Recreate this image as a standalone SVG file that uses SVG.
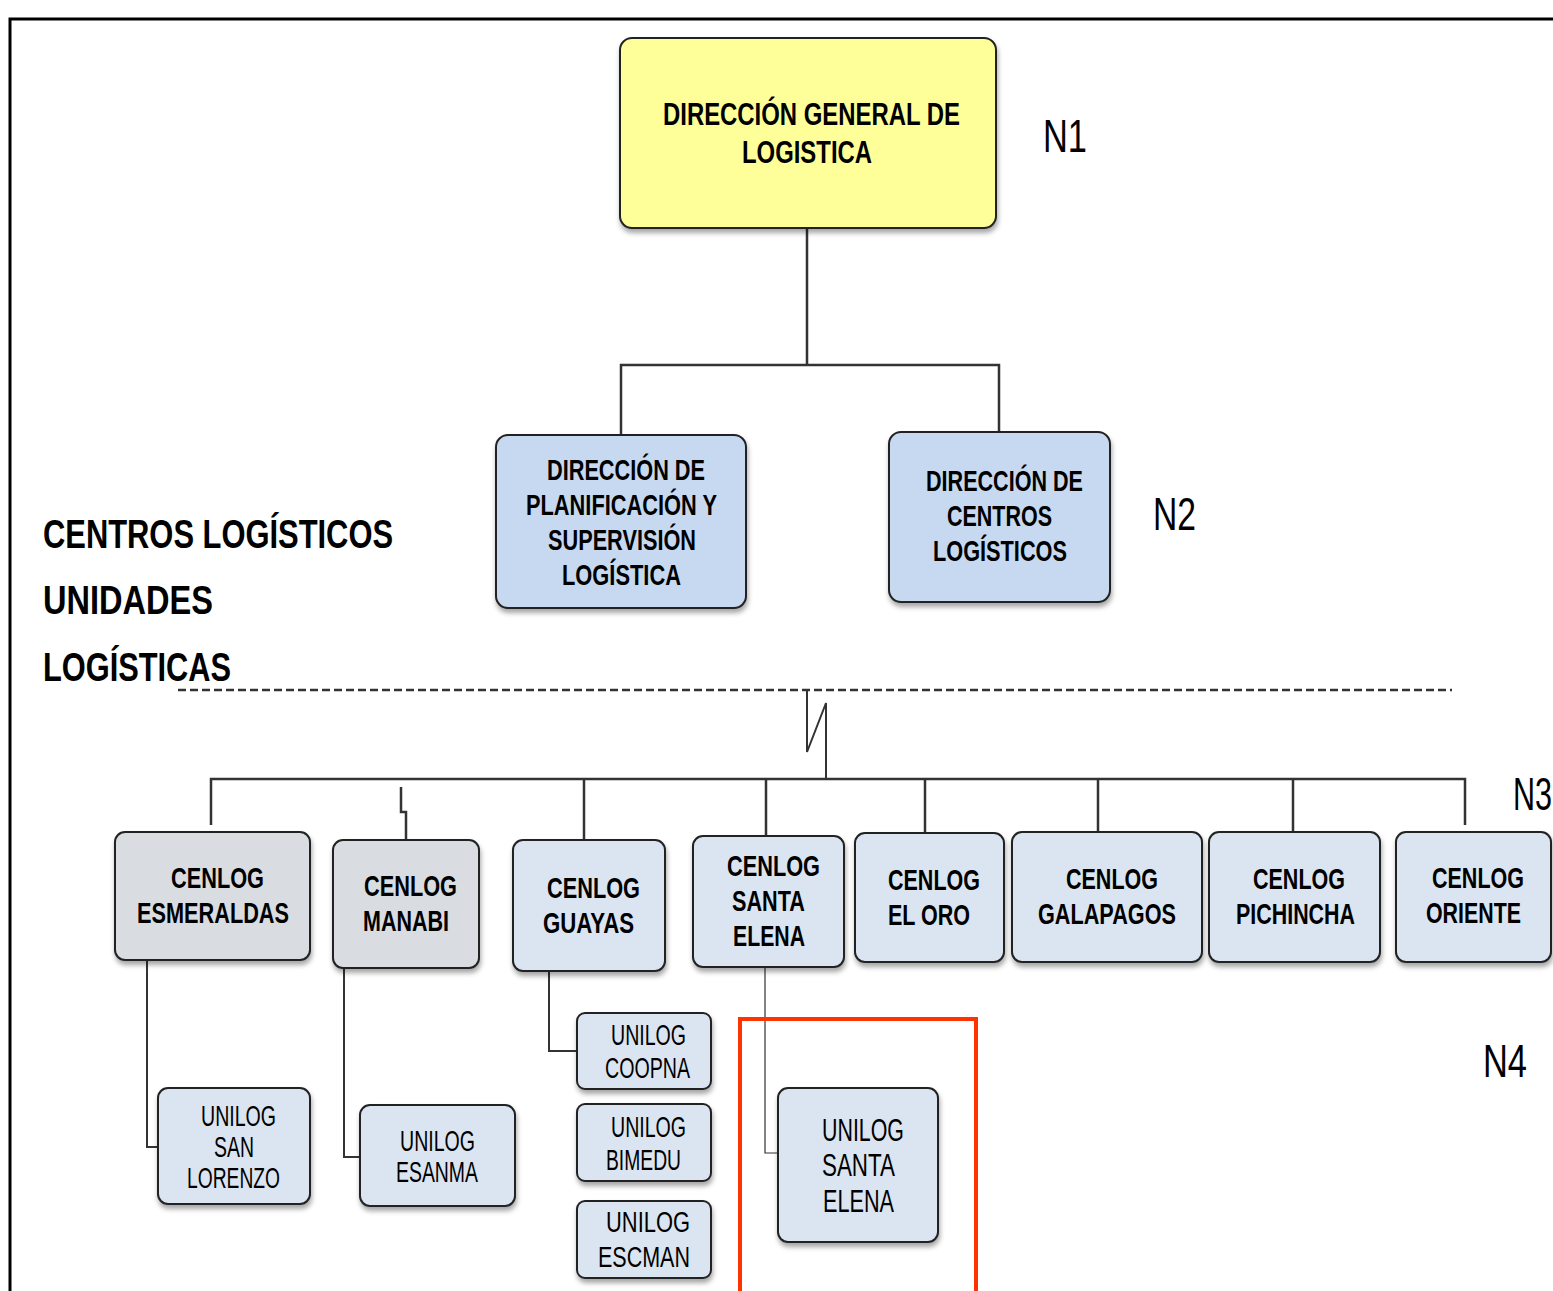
<svg xmlns="http://www.w3.org/2000/svg" width="1553" height="1291" viewBox="0 0 1553 1291">
<style>
.t{font-family:"Liberation Sans",Arial,sans-serif;fill:#000}
.b{font-weight:bold}
.box{stroke:#222;stroke-width:2;filter:url(#sh)}
.y{fill:#FFFF99}
.l2{fill:#C6D9F0}
.g{fill:#D9DDE2}
.lb{fill:#DBE5F1}
.c{fill:none;stroke:#333;stroke-width:2.5}
.c2{fill:none;stroke:#333;stroke-width:2}
</style>
<defs>
<filter id="sh" x="-10%" y="-10%" width="125%" height="130%">
<feDropShadow dx="1" dy="4" stdDeviation="2.5" flood-color="#000" flood-opacity="0.35"/>
</filter>
</defs>
<rect width="1553" height="1291" fill="#fff"/>
<g id="frame"><path d="M10,1291 V19 H1553" fill="none" stroke="#000" stroke-width="3"/></g>

<g id="connectors">
<path class="c" d="M807,228 V365 M621,435 V365 H999 V432"/>
<line x1="178" y1="690" x2="1452" y2="690" stroke="#333" stroke-width="2.5" stroke-dasharray="8,4"/>
<path class="c2" d="M807,690 V752 L826,703 V779"/>
<path class="c" d="M211,825 V779 H1465 V825"/>
<path class="c" d="M401,787 V812 H406 V840"/>
<path class="c" d="M584,779 V840 M766,779 V836 M925,779 V833 M1098,779 V832 M1293,779 V832"/>
<path class="c2" d="M147,960 V1147 H158"/>
<path class="c2" d="M344,968 V1157 H360"/>
<path class="c2" d="M549,971 V1051 H577"/>
<path fill="none" stroke="#333" stroke-width="1.2" d="M765,967 V1153 H778"/>
</g>

<g id="highlight"><path d="M740,1291 V1019 H976 V1291" fill="none" stroke="#FF3300" stroke-width="4"/></g>

<g id="labels">
<text class="t b" x="43" y="548" font-size="40" textLength="350" lengthAdjust="spacingAndGlyphs">CENTROS LOGÍSTICOS</text>
<text class="t b" x="43" y="614" font-size="40" textLength="170" lengthAdjust="spacingAndGlyphs">UNIDADES</text>
<text class="t b" x="43" y="681" font-size="40" textLength="188" lengthAdjust="spacingAndGlyphs">LOGÍSTICAS</text>
<text class="t" x="1043" y="152" font-size="47" textLength="44" lengthAdjust="spacingAndGlyphs">N1</text>
<text class="t" x="1153" y="530" font-size="47" textLength="43" lengthAdjust="spacingAndGlyphs">N2</text>
<text class="t" x="1513" y="810" font-size="47" textLength="39" lengthAdjust="spacingAndGlyphs">N3</text>
<text class="t" x="1483" y="1077" font-size="47" textLength="44" lengthAdjust="spacingAndGlyphs">N4</text>
</g>

<g id="n1">
<rect class="box y" x="620" y="38" width="376" height="190" rx="12"/>
<text class="t b" x="663" y="125" font-size="32" textLength="297" lengthAdjust="spacingAndGlyphs">DIRECCIÓN GENERAL DE</text>
<text class="t b" x="742" y="163" font-size="32" textLength="130" lengthAdjust="spacingAndGlyphs">LOGISTICA</text>
</g>

<g id="n2a">
<rect class="box l2" x="496" y="435" width="250" height="173" rx="12"/>
<text class="t b" x="547" y="480" font-size="30" textLength="158" lengthAdjust="spacingAndGlyphs">DIRECCIÓN DE</text>
<text class="t b" x="526" y="515" font-size="30" textLength="191" lengthAdjust="spacingAndGlyphs">PLANIFICACIÓN Y</text>
<text class="t b" x="548" y="550" font-size="30" textLength="148" lengthAdjust="spacingAndGlyphs">SUPERVISIÓN</text>
<text class="t b" x="562" y="585" font-size="30" textLength="119" lengthAdjust="spacingAndGlyphs">LOGÍSTICA</text>
</g>

<g id="n2b">
<rect class="box l2" x="889" y="432" width="221" height="170" rx="12"/>
<text class="t b" x="926" y="491" font-size="30" textLength="157" lengthAdjust="spacingAndGlyphs">DIRECCIÓN DE</text>
<text class="t b" x="947" y="526" font-size="30" textLength="105" lengthAdjust="spacingAndGlyphs">CENTROS</text>
<text class="t b" x="933" y="561" font-size="30" textLength="134" lengthAdjust="spacingAndGlyphs">LOGÍSTICOS</text>
</g>

<g id="cenlog-esmeraldas">
<rect class="box g" x="115" y="832" width="195" height="128" rx="10"/>
<text class="t b" x="171" y="888" font-size="30" textLength="93" lengthAdjust="spacingAndGlyphs">CENLOG</text>
<text class="t b" x="137" y="923" font-size="30" textLength="152" lengthAdjust="spacingAndGlyphs">ESMERALDAS</text>
</g>
<g id="cenlog-manabi">
<rect class="box g" x="333" y="840" width="146" height="128" rx="10"/>
<text class="t b" x="364" y="896" font-size="30" textLength="93" lengthAdjust="spacingAndGlyphs">CENLOG</text>
<text class="t b" x="363" y="931" font-size="30" textLength="86" lengthAdjust="spacingAndGlyphs">MANABI</text>
</g>
<g id="cenlog-guayas">
<rect class="box lb" x="513" y="840" width="152" height="131" rx="10"/>
<text class="t b" x="547" y="898" font-size="30" textLength="93" lengthAdjust="spacingAndGlyphs">CENLOG</text>
<text class="t b" x="543" y="933" font-size="30" textLength="91" lengthAdjust="spacingAndGlyphs">GUAYAS</text>
</g>
<g id="cenlog-santa-elena">
<rect class="box lb" x="693" y="836" width="151" height="131" rx="10"/>
<text class="t b" x="727" y="876" font-size="30" textLength="93" lengthAdjust="spacingAndGlyphs">CENLOG</text>
<text class="t b" x="732" y="911" font-size="30" textLength="73" lengthAdjust="spacingAndGlyphs">SANTA</text>
<text class="t b" x="733" y="946" font-size="30" textLength="72" lengthAdjust="spacingAndGlyphs">ELENA</text>
</g>
<g id="cenlog-el-oro">
<rect class="box lb" x="855" y="833" width="149" height="129" rx="10"/>
<text class="t b" x="888" y="890" font-size="30" textLength="92" lengthAdjust="spacingAndGlyphs">CENLOG</text>
<text class="t b" x="888" y="925" font-size="30" textLength="82" lengthAdjust="spacingAndGlyphs">EL ORO</text>
</g>
<g id="cenlog-galapagos">
<rect class="box lb" x="1012" y="832" width="190" height="130" rx="10"/>
<text class="t b" x="1066" y="889" font-size="30" textLength="92" lengthAdjust="spacingAndGlyphs">CENLOG</text>
<text class="t b" x="1038" y="924" font-size="30" textLength="138" lengthAdjust="spacingAndGlyphs">GALAPAGOS</text>
</g>
<g id="cenlog-pichincha">
<rect class="box lb" x="1209" y="832" width="171" height="130" rx="10"/>
<text class="t b" x="1253" y="889" font-size="30" textLength="92" lengthAdjust="spacingAndGlyphs">CENLOG</text>
<text class="t b" x="1236" y="924" font-size="30" textLength="119" lengthAdjust="spacingAndGlyphs">PICHINCHA</text>
</g>
<g id="cenlog-oriente">
<rect class="box lb" x="1396" y="832" width="155" height="130" rx="10"/>
<text class="t b" x="1432" y="888" font-size="30" textLength="92" lengthAdjust="spacingAndGlyphs">CENLOG</text>
<text class="t b" x="1426" y="923" font-size="30" textLength="95" lengthAdjust="spacingAndGlyphs">ORIENTE</text>
</g>

<g id="unilog-san-lorenzo">
<rect class="box lb" x="158" y="1088" width="152" height="116" rx="10"/>
<text class="t" x="201" y="1126" font-size="29" textLength="75" lengthAdjust="spacingAndGlyphs">UNILOG</text>
<text class="t" x="214" y="1157" font-size="29" textLength="40" lengthAdjust="spacingAndGlyphs">SAN</text>
<text class="t" x="187" y="1188" font-size="29" textLength="93" lengthAdjust="spacingAndGlyphs">LORENZO</text>
</g>
<g id="unilog-esanma">
<rect class="box lb" x="360" y="1105" width="155" height="101" rx="10"/>
<text class="t" x="400" y="1151" font-size="29" textLength="75" lengthAdjust="spacingAndGlyphs">UNILOG</text>
<text class="t" x="396" y="1182" font-size="29" textLength="82" lengthAdjust="spacingAndGlyphs">ESANMA</text>
</g>
<g id="unilog-coopna">
<rect class="box lb" x="577" y="1013" width="134" height="76" rx="8"/>
<text class="t" x="611" y="1045" font-size="29" textLength="75" lengthAdjust="spacingAndGlyphs">UNILOG</text>
<text class="t" x="605" y="1078" font-size="29" textLength="85" lengthAdjust="spacingAndGlyphs">COOPNA</text>
</g>
<g id="unilog-bimedu">
<rect class="box lb" x="577" y="1104" width="134" height="77" rx="8"/>
<text class="t" x="611" y="1137" font-size="29" textLength="75" lengthAdjust="spacingAndGlyphs">UNILOG</text>
<text class="t" x="606" y="1170" font-size="29" textLength="75" lengthAdjust="spacingAndGlyphs">BIMEDU</text>
</g>
<g id="unilog-escman">
<rect class="box lb" x="577" y="1201" width="134" height="77" rx="8"/>
<text class="t" x="606" y="1232" font-size="30" textLength="84" lengthAdjust="spacingAndGlyphs">UNILOG</text>
<text class="t" x="598" y="1267" font-size="30" textLength="92" lengthAdjust="spacingAndGlyphs">ESCMAN</text>
</g>
<g id="unilog-santa-elena">
<rect class="box lb" x="778" y="1088" width="160" height="154" rx="10"/>
<text class="t" x="822" y="1141" font-size="31" textLength="82" lengthAdjust="spacingAndGlyphs">UNILOG</text>
<text class="t" x="822" y="1176" font-size="31" textLength="73" lengthAdjust="spacingAndGlyphs">SANTA</text>
<text class="t" x="823" y="1212" font-size="31" textLength="71" lengthAdjust="spacingAndGlyphs">ELENA</text>
</g>
</svg>
